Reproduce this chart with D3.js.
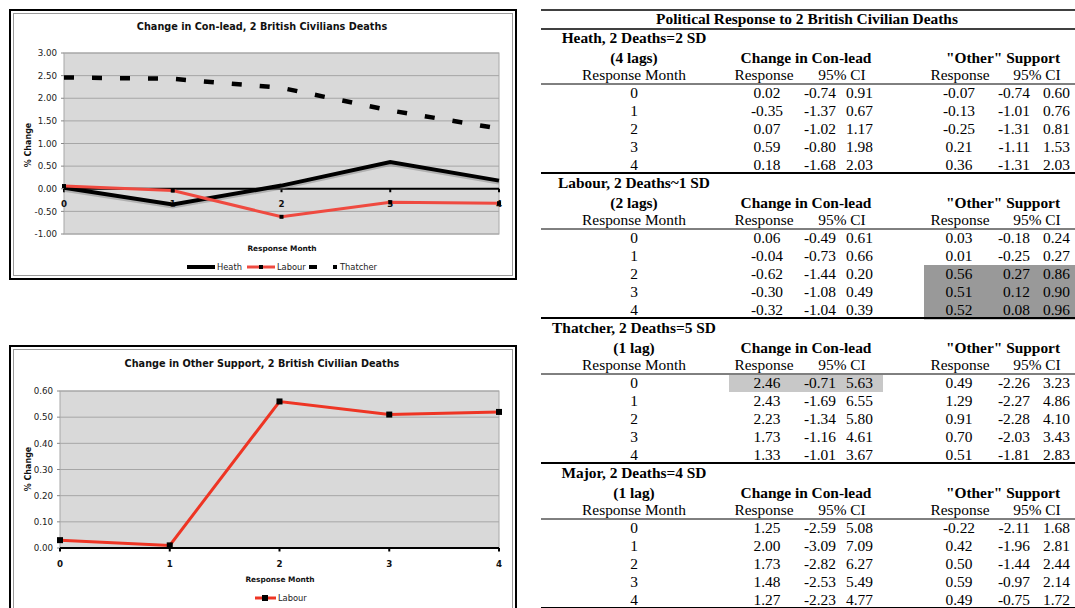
<!DOCTYPE html>
<html><head><meta charset="utf-8">
<script src="https://cdn.jsdelivr.net/npm/d3@7"></script>
<style>html,body{margin:0;padding:0;background:#fff;}svg{display:block;}</style>
</head><body>
<svg id="c" width="1075" height="608"></svg>
<script>
// ---------- data ----------
const months = [0, 1, 2, 3, 4];
const conTicks = [-1, -0.5, 0, 0.5, 1, 1.5, 2, 2.5, 3];
const otherTicks = [0, 0.1, 0.2, 0.3, 0.4, 0.5, 0.6];

const heathCon = [0.02, -0.35, 0.07, 0.59, 0.18];
const heathConLo = [-0.74, -1.37, -1.02, -0.80, -1.68];
const heathConHi = [0.91, 0.67, 1.17, 1.98, 2.03];
const heathOther = [-0.07, -0.13, -0.25, 0.21, 0.36];
const heathOtherLo = [-0.74, -1.01, -1.31, -1.11, -1.31];
const heathOtherHi = [0.60, 0.76, 0.81, 1.53, 2.03];

const labourCon = [0.06, -0.04, -0.62, -0.30, -0.32];
const labourConLo = [-0.49, -0.73, -1.44, -1.08, -1.04];
const labourConHi = [0.61, 0.66, 0.20, 0.49, 0.39];
const labourOther = [0.03, 0.01, 0.56, 0.51, 0.52];
const labourOtherLo = [-0.18, -0.25, 0.27, 0.12, 0.08];
const labourOtherHi = [0.24, 0.27, 0.86, 0.90, 0.96];

const thatcherCon = [2.46, 2.43, 2.23, 1.73, 1.33];
const thatcherConLo = [-0.71, -1.69, -1.34, -1.16, -1.01];
const thatcherConHi = [5.63, 6.55, 5.80, 4.61, 3.67];
const thatcherOther = [0.49, 1.29, 0.91, 0.70, 0.51];
const thatcherOtherLo = [-2.26, -2.27, -2.28, -2.03, -1.81];
const thatcherOtherHi = [3.23, 4.86, 4.10, 3.43, 2.83];

const majorCon = [1.25, 2.00, 1.73, 1.48, 1.27];
const majorConLo = [-2.59, -3.09, -2.82, -2.53, -2.23];
const majorConHi = [5.08, 7.09, 6.27, 5.49, 4.77];
const majorOther = [-0.22, 0.42, 0.50, 0.59, 0.49];
const majorOtherLo = [-2.11, -1.96, -1.44, -0.97, -0.75];
const majorOtherHi = [1.68, 2.81, 2.44, 2.14, 1.72];

const sectionTitles = ["Heath, 2 Deaths=2 SD", "Labour, 2 Deaths~1 SD", "Thatcher, 2 Deaths=5 SD", "Major, 2 Deaths=4 SD"];
const sectionLags = ["(4 lags)", "(2 lags)", "(1 lag)", "(1 lag)"];

// ---------- setup ----------
const svg = d3.select("#c");
svg.append("rect").attr("width", 1075).attr("height", 608).attr("fill", "#fff");
const SANS = "'DejaVu Sans', Verdana, sans-serif";
const SERIF = "'Liberation Serif', 'Times New Roman', serif";
const f2 = v => (v < 0 ? "-" : "") + Math.abs(v).toFixed(2);

function frame(x0, y0, x1, y1) {
  svg.append("rect").attr("x", x0).attr("y", y0).attr("width", x1 - x0).attr("height", y1 - y0)
    .attr("fill", "#fff").attr("stroke", "#000").attr("stroke-width", 2);
  svg.append("rect").attr("x", x0 + 3.5).attr("y", y0 + 3.5).attr("width", x1 - x0 - 7).attr("height", y1 - y0 - 7)
    .attr("fill", "none").attr("stroke", "#9a9a9a").attr("stroke-width", 1);
}

function plotBase(x, y, ticks, labelX, opts) {
  const [xa, xb] = x.range();
  const [yb, ya] = y.range();
  const g = svg.append("g");
  g.append("rect").attr("x", xa).attr("y", ya).attr("width", xb - xa).attr("height", yb - ya)
    .attr("fill", "#d9d9d9").attr("stroke", "#a8a8a8").attr("stroke-width", 1);
  g.selectAll(".grid").data(ticks).join("line")
    .attr("x1", xa).attr("x2", xb).attr("y1", d => y(d)).attr("y2", d => y(d))
    .attr("stroke", "#a6a6a6").attr("stroke-width", 1);
  g.selectAll(".lt").data(ticks).join("line")
    .attr("x1", xa - 3).attr("x2", xa).attr("y1", d => y(d)).attr("y2", d => y(d))
    .attr("stroke", "#888").attr("stroke-width", 1);
  g.selectAll(".yl").data(ticks).join("text")
    .attr("x", labelX).attr("y", d => y(d) + 3.2)
    .attr("text-anchor", "end").attr("font-family", SANS).attr("font-size", "8.7px").attr("fill", "#222")
    .text(d => f2(d));
  // x axis at zero
  g.append("line").attr("x1", xa).attr("x2", xb).attr("y1", y(0)).attr("y2", y(0))
    .attr("stroke", "#000").attr("stroke-width", 2);
  g.selectAll(".xt").data(months).join("line")
    .attr("x1", d => x(d)).attr("x2", d => x(d)).attr("y1", y(0)).attr("y2", y(0) + 3.5)
    .attr("stroke", "#000").attr("stroke-width", 2);
  g.selectAll(".xl").data(months).join("text")
    .attr("x", d => x(d)).attr("y", y(0) + opts.xlOff)
    .attr("text-anchor", "middle").attr("font-family", SANS).attr("font-weight", "bold")
    .attr("font-size", "8.7px").attr("fill", "#111").text(d => d);
  // titles
  svg.append("text").attr("x", opts.titleX).attr("y", opts.titleY).attr("text-anchor", "middle")
    .attr("font-family", SANS).attr("font-weight", "bold").attr("font-size", "9.7px").attr("fill", "#111")
    .text(opts.title);
  svg.append("text").attr("transform", `translate(${opts.ytX},${opts.ytY}) rotate(-90)`)
    .attr("text-anchor", "middle").attr("font-family", SANS).attr("font-weight", "bold")
    .attr("font-size", "8px").attr("fill", "#111").text("% Change");
  svg.append("text").attr("x", opts.xtX).attr("y", opts.xtY).attr("text-anchor", "middle")
    .attr("font-family", SANS).attr("font-weight", "bold").attr("font-size", "7.4px").attr("fill", "#111")
    .text("Response Month");
}

function markers(x, y, vals, size) {
  svg.append("g").selectAll("rect").data(vals).join("rect")
    .attr("x", (d, i) => x(months[i]) - size / 2).attr("y", d => y(d) - size / 2)
    .attr("width", size).attr("height", size).attr("fill", "#000");
}

// ---------- chart 1 ----------
frame(10, 10, 516, 279);
const x1 = d3.scalePoint().domain(months).range([64, 499]);
const y1 = d3.scaleLinear().domain([-1, 3]).range([234, 53]);
plotBase(x1, y1, conTicks, 57, {
  xlOff: 18, title: "Change in Con-lead, 2 British Civilians Deaths", titleX: 262, titleY: 30,
  ytX: 31, ytY: 145, xtX: 282, xtY: 251
});
const line1 = d3.line().x((d, i) => x1(months[i])).y(d => y1(d));
svg.append("path").attr("d", line1(heathCon)).attr("transform", "translate(0,2)")
  .attr("fill", "none").attr("stroke", "#888").attr("stroke-opacity", 0.5).attr("stroke-width", 4);
svg.append("path").attr("d", line1(heathCon)).attr("fill", "none").attr("stroke", "#000").attr("stroke-width", 4);
svg.append("path").attr("d", line1(labourCon)).attr("fill", "none").attr("stroke", "#ef4a40").attr("stroke-width", 3);
markers(x1, y1, labourCon, 4);
svg.append("path").attr("d", line1(thatcherCon)).attr("fill", "none").attr("stroke", "#000")
  .attr("stroke-width", 4.5).attr("stroke-dasharray", "10,18");

// legend 1
const lg1 = svg.append("g").attr("font-family", SANS).attr("font-size", "8.3px").attr("fill", "#222");
lg1.append("line").attr("x1", 187).attr("x2", 215).attr("y1", 267).attr("y2", 267).attr("stroke", "#000").attr("stroke-width", 4);
lg1.append("text").attr("x", 217).attr("y", 270).text("Heath");
lg1.append("line").attr("x1", 247).attr("x2", 275).attr("y1", 267).attr("y2", 267).attr("stroke", "#ef4a40").attr("stroke-width", 3);
lg1.append("rect").attr("x", 259).attr("y", 265).attr("width", 4).attr("height", 4).attr("fill", "#000");
lg1.append("text").attr("x", 277).attr("y", 270).text("Labour");
lg1.append("line").attr("x1", 309).attr("x2", 337).attr("y1", 267).attr("y2", 267).attr("stroke", "#000")
  .attr("stroke-width", 4).attr("stroke-dasharray", "8,16");
lg1.append("text").attr("x", 340).attr("y", 270).text("Thatcher");

// ---------- chart 2 ----------
frame(10, 346, 516, 640);
const x2 = d3.scalePoint().domain(months).range([60, 499]);
const y2 = d3.scaleLinear().domain([0, 0.6]).range([548, 391]);
plotBase(x2, y2, otherTicks, 53, {
  xlOff: 19, title: "Change in Other Support, 2 British Civilian Deaths", titleX: 262, titleY: 367,
  ytX: 31, ytY: 469, xtX: 280, xtY: 582
});
const line2 = d3.line().x((d, i) => x2(months[i])).y(d => y2(d));
svg.append("path").attr("d", line2(labourOther)).attr("fill", "none").attr("stroke", "#ee3524").attr("stroke-width", 3);
markers(x2, y2, labourOther, 6);
const lg2 = svg.append("g").attr("font-family", SANS).attr("font-size", "8.3px").attr("fill", "#222");
lg2.append("line").attr("x1", 255).attr("x2", 276).attr("y1", 598).attr("y2", 598).attr("stroke", "#ee3524").attr("stroke-width", 3);
lg2.append("rect").attr("x", 262).attr("y", 595).attr("width", 6).attr("height", 6).attr("fill", "#000");
lg2.append("text").attr("x", 278).attr("y", 601).text("Labour");

// ---------- table ----------
const T = svg.append("g").attr("font-family", SERIF).attr("font-size", "15.4px").attr("fill", "#000");
const TX0 = 541, TX1 = 1075;
function hline(y, w) {
  T.append("line").attr("x1", TX0).attr("x2", TX1).attr("y1", y).attr("y2", y).attr("stroke", "#000").attr("stroke-width", w);
}
function txt(x, y, s, anchor, bold) {
  T.append("text").attr("x", x).attr("y", y).attr("text-anchor", anchor || "middle")
    .attr("font-weight", bold ? "bold" : "normal").text(s);
}
hline(10, 1.5);
hline(29, 1.3);
txt(807, 24, "Political Response to 2 British Civilian Deaths", "middle", true);

const sections = [
  [heathCon, heathConLo, heathConHi, heathOther, heathOtherLo, heathOtherHi],
  [labourCon, labourConLo, labourConHi, labourOther, labourOtherLo, labourOtherHi],
  [thatcherCon, thatcherConLo, thatcherConHi, thatcherOther, thatcherOtherLo, thatcherOtherHi],
  [majorCon, majorConLo, majorConHi, majorOther, majorOtherLo, majorOtherHi]
];
const COL = { month: 634, conR: 767, conLo: 836, conHi: 873, othR: 959, othLo: 1030, othHi: 1070 };

sections.forEach((s, k) => {
  const b = 93 + 145 * k;
  if (k === 1) {
    T.append("rect").attr("x", 924).attr("y", b + 18 * 2 - 9).attr("width", TX1 - 924).attr("height", 18 * 3 + 0.5).attr("fill", "#999");
  }
  if (k === 2) {
    T.append("rect").attr("x", 729).attr("y", b - 8).attr("width", 154).attr("height", 17).attr("fill", "#c8c8c8");
  }
  txt(634, b - 50, sectionTitles[k], "middle", true);
  txt(634, b - 30, sectionLags[k], "middle", true);
  txt(806, b - 30, "Change in Con-lead", "middle", true);
  txt(1003, b - 30, "\"Other\" Support", "middle", true);
  txt(634, b - 13, "Response Month");
  txt(764, b - 13, "Response");
  txt(842, b - 13, "95% CI");
  txt(960, b - 13, "Response");
  txt(1037, b - 13, "95% CI");
  hline(b - 9, 1);
  months.forEach((m, i) => {
    const yy = b + 18 * i + 5;
    txt(COL.month, yy, m);
    txt(COL.conR, yy, f2(s[0][i]));
    txt(COL.conLo, yy, f2(s[1][i]), "end");
    txt(COL.conHi, yy, f2(s[2][i]), "end");
    txt(COL.othR, yy, f2(s[3][i]));
    txt(COL.othLo, yy, f2(s[4][i]), "end");
    txt(COL.othHi, yy, f2(s[5][i]), "end");
  });
  hline(b + 80, 2);
});
</script>
</body></html>
